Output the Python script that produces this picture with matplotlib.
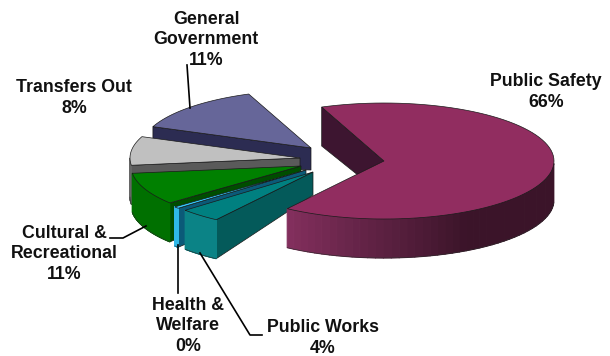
import matplotlib
matplotlib.use("Agg")
import matplotlib.pyplot as plt
from matplotlib.collections import PolyCollection
from matplotlib.colors import to_rgb
import numpy as np

# budget shares, clockwise from the top-right wall of Public Safety
names = ["Public Safety", "Public Works", "Health &\nWelfare",
         "Cultural &\nRecreational", "Transfers Out", "General\nGovernment"]
values = [65.61, 3.9, 0.49, 11.0, 8.0, 11.0]

top_colors = ["#912d60", "#008080", "#33ccff", "#008000", "#c0c0c0", "#666699"]
side_colors = ["#3d1530", "#045a5a", "#0b5a78", "#004d00", "#5a5a5a", "#2c2c52"]
rim_light = ["#85305f", "#0b8386", "#2fb8e8", "#007000", "#666666", "#2c2c52"]
rim_dark = ["#3b1429", "#0a7478", "#2fb8e8", "#006000", "#5a5a5a", "#2c2c52"]

# where each slice's point sits after exploding, and its wall height there
apex_x = [384, 313, 306, 301, 300, 311]
apex_y = [161, 172, 170, 166, 158, 148]
apex_depth = [35, 23, 23, 23, 23, 22]

RX, RY = 170, 58
DEPTH = 39
START = 338.5
FAN_SQUEEZE = 8.0


def view_angle(t):
    # the back-left slices are pushed round a little by the 3-D view
    first = START + sum(values[:3]) * 3.6 - 360
    last = START
    t = np.asarray(t, dtype=float)
    u = np.mod(t, 360)
    mask = (u > first) & (u < last)
    out = t.copy()
    out[mask] = t[mask] - FAN_SQUEEZE * np.sin(np.pi * (u[mask] - first) / (last - first))
    return out


def rim_xy(i, t):
    r = np.radians(t)
    return apex_x[i] + RX * np.sin(r), apex_y[i] - RY * np.cos(r)


def draw_slice(ax, i, t0, t1, z):
    a, b = view_angle([t0, t1])
    ts = np.linspace(a, b, 90)
    x, y = rim_xy(i, ts)

    # wall along the leading cut
    wall = [(apex_x[i], apex_y[i]), (x[0], y[0]), (x[0], y[0] + DEPTH),
            (apex_x[i], apex_y[i] + apex_depth[i])]
    ax.fill(*zip(*wall), fc=side_colors[i], ec="#1a1a1a", lw=0.5, zorder=z)

    # curved outer wall, only the part facing front
    fr = (np.mod(ts, 360) > 90) & (np.mod(ts, 360) < 270)
    if fr.sum() > 1:
        xs, ys, tf = x[fr], y[fr], np.mod(ts[fr], 360)
        mix = np.interp(tf, [150, 215], [0, 1])
        light = np.array(to_rgb(rim_light[i]))
        dark = np.array(to_rgb(rim_dark[i]))
        quads, cols = [], []
        for k in range(len(xs) - 1):
            quads.append([(xs[k], ys[k]), (xs[k + 1], ys[k + 1]),
                          (xs[k + 1], ys[k + 1] + DEPTH), (xs[k], ys[k] + DEPTH)])
            cols.append(dark + (light - dark) * mix[k])
        pc = PolyCollection(quads, facecolors=cols, edgecolors=cols, linewidths=0.8, zorder=z + 1)
        ax.add_collection(pc)
        ax.plot(xs, ys + DEPTH, color="#2a2a2a", lw=0.4, zorder=z + 1)

    # top face
    px = np.r_[apex_x[i], x]
    py = np.r_[apex_y[i], y]
    ax.fill(px, py, fc=top_colors[i], ec="#1a1a1a", lw=0.5, zorder=z + 2)


fig = plt.figure(figsize=(6.1, 3.56), dpi=100)
ax = fig.add_axes([0, 0, 1, 1])
ax.set_xlim(0, 610)
ax.set_ylim(356, 0)
ax.axis("off")

edges = START + np.r_[0, np.cumsum(values)] * 3.6
# back to front, so nearer slices cover the walls behind them
for n, i in enumerate([5, 4, 3, 2, 1, 0]):
    draw_slice(ax, i, edges[i], edges[i + 1], 3 * n + 1)

pct = ["%d%%" % round(v) for v in values]
label_x = [546, 323, 188, 64, 74, 206]
label_y = [92, 338, 326, 254, 98, 40]
for i in range(len(names)):
    ax.text(label_x[i], label_y[i], names[i] + "\n" + pct[i], ha="center", va="center",
            fontsize=12.8, fontweight="bold", family="Liberation Sans",
            linespacing=1.3, color="#111111", zorder=40)

# leader lines
ax.plot([187, 190], [65, 108], color="black", lw=1.2, zorder=40)
ax.plot([110, 123, 146], [238, 238, 226], color="black", lw=1.2, zorder=40)
ax.plot([178, 178], [245, 293], color="black", lw=1.2, zorder=40)
ax.plot([200, 250, 262], [253, 335, 335], color="black", lw=1.2, zorder=40)

fig.savefig("out.png", dpi=100, facecolor="white")
